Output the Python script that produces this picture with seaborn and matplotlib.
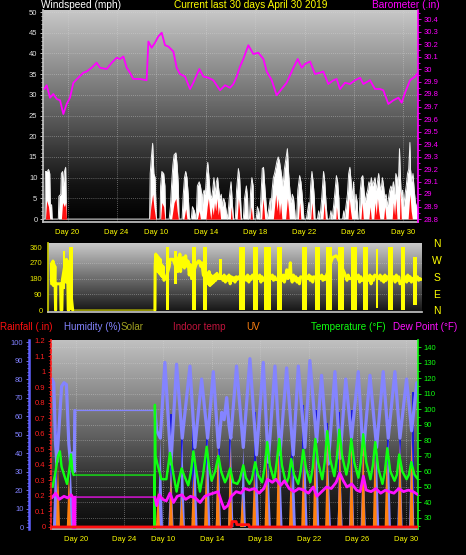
import numpy as np
import matplotlib
matplotlib.use("Agg")
import matplotlib.pyplot as plt
import seaborn as sns
from matplotlib.colors import LinearSegmentedColormap
from matplotlib.ticker import MultipleLocator, FuncFormatter

# ---- data (t = day index from left edge) ----
day_ticks = [2, 6, 9.25, 13.3, 17.3, 21.35, 25.35, 29.4]
day_labels = ["Day 20", "Day 24", "Day 10", "Day 14", "Day 18", "Day 22", "Day 26", "Day 30"]

baro_t = [0.11, 0.30, 0.57, 0.84, 1.12, 1.39, 1.66, 1.93, 2.20, 2.48,
          2.88, 3.29, 3.56, 3.97, 4.38, 4.65, 5.20, 5.61, 6.01, 6.29,
          6.56, 6.83, 7.10, 7.37, 7.92, 8.46, 8.60, 8.87, 9.14, 9.41,
          9.69, 9.96, 10.23, 10.64, 10.91, 11.18, 11.59, 12.00, 12.27, 12.76,
          13.09, 13.50, 13.90, 14.45, 14.86, 15.27, 15.54, 15.81, 16.08, 16.35,
          16.76, 17.17, 17.58, 17.99, 18.26, 18.67, 19.07, 19.48, 19.89, 20.44,
          20.79, 21.12, 21.39, 21.80, 22.20, 22.61, 22.88, 23.29, 23.70, 23.97,
          24.24, 24.65, 25.06, 25.47, 25.88, 26.15, 26.69, 27.10, 27.51, 27.78,
          28.19, 28.60, 29.01, 29.28, 29.55, 29.96, 30.37, 30.61]
baro_in = [29.84, 29.87, 29.77, 29.80, 29.76, 29.75, 29.64, 29.72, 29.77, 29.89,
           29.93, 29.97, 29.98, 30.01, 30.05, 30.01, 30.00, 30.05, 30.09, 30.08,
           30.10, 30.01, 29.97, 29.92, 29.92, 29.91, 30.22, 30.17, 30.21, 30.26,
           30.29, 30.19, 30.18, 30.14, 30.01, 29.96, 29.94, 29.84, 29.89, 30.00,
           29.94, 29.93, 29.91, 29.83, 29.87, 29.85, 29.88, 29.94, 30.02, 30.08,
           30.19, 30.12, 30.13, 30.08, 29.98, 29.91, 29.79, 29.84, 29.89, 30.01,
           30.08, 30.01, 30.04, 30.06, 29.96, 29.97, 29.98, 29.88, 29.91, 29.92,
           29.84, 29.89, 29.88, 29.91, 29.93, 29.88, 29.91, 29.84, 29.84, 29.83,
           29.72, 29.75, 29.77, 29.73, 29.81, 29.91, 29.94, 29.97]

gust = [(0.0, 0), (0.15, 0), (0.2, 11.5), (0.35, 11.5), (0.45, 12), (0.55, 11), (0.6, 3), (0.7, 3.5),
        (0.75, 0), (1.25, 0), (1.3, 5.5), (1.45, 6), (1.5, 11), (1.6, 11.5), (1.65, 8), (1.75, 11.5),
        (1.85, 12.5), (1.92, 0), (8.7, 0), (8.75, 11), (8.85, 15), (8.95, 18.3), (9.05, 11), (9.15, 10),
        (9.25, 0), (9.55, 0), (9.6, 8), (9.7, 11.5), (9.85, 11), (9.95, 8), (10.0, 0), (10.3, 0),
        (10.4, 3), (10.5, 8.5), (10.6, 13), (10.7, 15.5), (10.85, 16), (10.95, 13), (11.05, 8), (11.1, 0),
        (11.35, 0), (11.45, 6), (11.55, 10), (11.65, 11.5), (11.75, 10), (11.85, 6), (11.95, 0), (12.1, 0),
        (12.2, 3), (12.35, 2), (12.5, 0), (12.6, 8), (12.75, 9), (12.85, 8), (12.95, 6), (13.0, 2),
        (13.05, 6), (13.15, 7), (13.25, 6), (13.35, 11), (13.45, 13.7), (13.55, 10), (13.65, 6), (13.75, 5),
        (13.85, 7), (13.95, 10), (14.05, 6), (14.15, 9), (14.25, 10), (14.35, 7), (14.45, 5), (14.55, 6),
        (14.65, 3), (14.75, 5), (14.85, 4), (14.95, 2), (15.05, 0), (15.15, 3), (15.2, 5), (15.35, 9),
        (15.45, 4), (15.55, 0), (15.7, 0), (15.8, 7), (15.95, 12.2), (16.05, 10), (16.15, 3), (16.2, 0),
        (16.35, 0), (16.45, 5), (16.6, 8), (16.7, 5), (16.75, 0), (16.85, 0), (16.95, 7), (17.05, 10),
        (17.15, 8), (17.2, 0), (17.4, 0), (17.5, 3), (17.6, 2), (17.7, 0), (17.8, 6), (17.9, 12.2),
        (18.0, 12.5), (18.1, 8), (18.2, 4), (18.3, 0), (18.45, 3), (18.55, 5), (18.6, 2), (18.7, 7),
        (18.8, 10), (18.9, 11), (19.0, 12.5), (19.1, 14), (19.2, 15), (19.3, 14), (19.4, 12), (19.5, 10),
        (19.6, 8), (19.7, 12), (19.8, 14), (19.95, 17), (20.05, 11), (20.15, 7), (20.25, 4), (20.35, 6),
        (20.45, 5), (20.55, 2), (20.6, 0), (20.7, 0), (20.8, 7), (20.95, 10.5), (21.05, 9), (21.15, 6),
        (21.25, 2), (21.3, 0), (21.5, 0), (21.6, 2), (21.7, 4), (21.75, 0), (21.85, 8), (21.95, 11.5),
        (22.05, 9), (22.15, 5), (22.2, 0), (22.4, 0), (22.5, 2), (22.6, 0), (22.75, 5), (22.9, 11.5),
        (23.0, 9), (23.1, 4), (23.2, 0), (23.4, 0), (23.5, 2), (23.6, 0), (23.75, 4), (23.95, 10.5),
        (24.05, 9), (24.15, 5), (24.2, 0), (24.45, 0), (24.55, 2), (24.6, 0), (24.85, 6), (24.95, 11),
        (25.05, 12.5), (25.15, 9), (25.25, 5), (25.35, 9), (25.45, 2), (25.55, 6), (25.65, 4), (25.7, 0),
        (25.8, 0), (25.9, 7), (26.0, 10), (26.1, 10.5), (26.2, 7), (26.3, 4), (26.4, 6), (26.5, 7),
        (26.6, 9), (26.7, 8), (26.8, 10), (26.9, 8), (27.0, 9), (27.1, 10), (27.2, 7), (27.3, 9),
        (27.4, 11), (27.5, 8), (27.6, 7), (27.7, 10), (27.8, 8), (27.9, 5), (28.0, 6), (28.1, 3),
        (28.2, 5), (28.3, 7), (28.4, 8), (28.5, 7), (28.6, 9), (28.7, 6), (28.8, 11), (28.9, 10),
        (29.0, 8), (29.1, 17), (29.15, 12), (29.25, 5), (29.35, 7), (29.45, 3), (29.55, 6), (29.65, 8),
        (29.75, 11), (29.85, 12), (29.95, 18.5), (30.0, 12), (30.1, 9), (30.2, 11), (30.3, 7), (30.4, 4),
        (30.5, 3), (30.6, 2)]

wind_avg = [(0.0, 0), (0.2, 0), (0.3, 4.5), (0.45, 3), (0.55, 0), (1.5, 0), (1.6, 4), (1.75, 3),
            (1.85, 4), (1.92, 0), (8.7, 0), (8.8, 3), (8.95, 6), (9.05, 3), (9.2, 0), (9.6, 0),
            (9.7, 4), (9.85, 3), (9.95, 0), (10.5, 0), (10.7, 4), (10.85, 5), (10.95, 2), (11.05, 0),
            (11.5, 0), (11.65, 2.5), (11.75, 0), (12.6, 0), (12.75, 2), (12.85, 0), (13.3, 0), (13.4, 3),
            (13.5, 5), (13.6, 2), (13.7, 0), (13.8, 3), (13.9, 1), (14.0, 4), (14.1, 2), (14.2, 5),
            (14.3, 1), (14.4, 3), (14.5, 0), (15.3, 0), (15.35, 3), (15.45, 0), (15.85, 0), (15.95, 5),
            (16.05, 2), (16.1, 0), (16.9, 0), (17.0, 3), (17.1, 0), (17.85, 0), (17.95, 5), (18.05, 2),
            (18.1, 0), (18.8, 0), (18.9, 3), (19.0, 6), (19.1, 2), (19.2, 5), (19.3, 1), (19.4, 4),
            (19.5, 0), (19.8, 0), (19.95, 5), (20.05, 2), (20.1, 0), (20.85, 0), (20.95, 4), (21.05, 0),
            (21.85, 0), (21.95, 4), (22.05, 0), (22.85, 0), (22.95, 4), (23.05, 0), (23.9, 0), (23.95, 3),
            (24.05, 0), (24.9, 0), (25.0, 5), (25.1, 2), (25.2, 0), (25.95, 0), (26.05, 4), (26.15, 0),
            (26.6, 0), (26.7, 3), (26.8, 0), (27.0, 0), (27.1, 4), (27.2, 1), (27.3, 5), (27.4, 2),
            (27.5, 0), (27.8, 0), (27.9, 3), (28.0, 0), (28.5, 0), (28.6, 4), (28.7, 1), (28.8, 5),
            (28.9, 0), (29.1, 0), (29.15, 7), (29.25, 0), (29.8, 0), (29.95, 6), (30.05, 2), (30.15, 0),
            (30.6, 0)]

# wind direction: solid bands (start, end, low, high) and the line between them
dir_bands = [(0.88, 1.08, 120, 340), (1.44, 1.72, 0, 360), (9.47, 9.74, 0, 360), (10.1, 10.4, 150, 340),
             (11.6, 11.96, 0, 360), (12.57, 12.85, 0, 360), (13.85, 14.1, 170, 290), (15.56, 16.03, 0, 360),
             (16.72, 17.13, 0, 360), (17.63, 18.16, 0, 360), (18.66, 19.07, 0, 360), (20.73, 21.2, 0, 360),
             (21.84, 22.26, 0, 360), (22.73, 23.28, 0, 360), (23.78, 24.28, 0, 360), (24.80, 25.30, 0, 360),
             (25.85, 26.27, 0, 360), (26.9, 27.1, 10, 350), (27.93, 28.35, 0, 360), (28.95, 29.31, 0, 360),
             (30.0, 30.3, 30, 305)]
dir_line = [(-0.03, 150), (0.0, 270), (0.04, 160), (0.08, 280), (0.12, 140), (0.16, 260), (0.2, 160),
            (0.24, 250), (0.27, 130), (0.3, 0), (0.32, 150), (0.5, 150), (0.72, 150), (0.75, 0), (0.82, 0),
            (0.86, 170), (1.1, 270), (1.15, 160), (1.2, 290), (1.25, 170), (1.3, 280), (1.35, 0), (1.4, 0),
            (1.44, 180), (1.72, 0), (8.55, 0), (8.57, 250), (8.62, 320), (8.68, 230), (8.74, 310),
            (8.8, 220), (8.86, 300), (8.92, 210), (8.98, 290), (9.04, 200), (9.1, 260), (9.16, 190),
            (9.22, 250), (9.3, 170), (9.38, 180), (9.47, 180), (9.74, 250), (9.8, 290), (9.95, 290),
            (10.05, 290), (10.45, 220), (10.5, 300), (10.56, 230), (10.62, 320), (10.68, 220), (10.74, 280),
            (10.8, 250), (10.9, 300), (11.0, 240), (11.1, 310), (11.2, 250), (11.3, 280), (11.4, 200),
            (11.5, 260), (11.6, 180), (11.96, 260), (12.05, 270), (12.15, 280), (12.25, 280), (12.35, 250),
            (12.45, 270), (12.57, 200), (12.85, 170), (12.92, 210), (12.98, 150), (13.05, 220), (13.12, 140),
            (13.2, 200), (13.28, 150), (13.36, 190), (13.44, 160), (13.52, 200), (13.6, 170), (13.7, 210),
            (13.8, 180), (14.1, 190), (14.2, 170), (14.3, 200), (14.4, 160), (14.5, 190), (14.6, 170),
            (14.7, 200), (14.8, 150), (14.9, 190), (15.0, 170), (15.1, 185), (15.2, 160), (15.3, 190),
            (15.4, 175), (15.5, 190), (16.05, 190), (16.15, 170), (16.25, 200), (16.35, 160), (16.45, 190),
            (16.55, 175), (16.65, 200), (17.15, 180), (17.25, 200), (17.35, 160), (17.45, 190), (17.55, 170),
            (18.2, 180), (18.3, 200), (18.4, 170), (18.5, 190), (18.6, 175), (19.1, 170), (19.2, 200),
            (19.3, 160), (19.4, 190), (19.5, 230), (19.6, 180), (19.7, 200), (19.8, 270), (19.85, 190),
            (19.95, 160), (20.05, 200), (20.15, 170), (20.25, 190), (20.35, 160), (20.45, 180), (20.55, 150),
            (20.65, 190), (21.25, 180), (21.35, 200), (21.45, 170), (21.55, 190), (21.65, 160), (21.75, 190),
            (22.3, 180), (22.4, 200), (22.5, 170), (22.6, 190), (22.68, 175), (23.3, 300), (23.45, 305),
            (23.6, 310), (23.72, 300), (24.3, 210), (24.4, 190), (24.5, 170), (24.6, 200), (24.7, 180),
            (25.35, 180), (25.45, 200), (25.55, 160), (25.65, 190), (25.75, 170), (26.3, 170), (26.4, 200),
            (26.5, 150), (26.6, 190), (26.7, 170), (26.8, 200), (27.15, 180), (27.25, 200), (27.35, 170),
            (27.45, 190), (27.55, 160), (27.65, 200), (27.75, 170), (27.85, 190), (28.4, 190), (28.5, 160),
            (28.6, 200), (28.7, 170), (28.8, 190), (28.9, 150), (29.35, 190), (29.45, 160), (29.55, 200),
            (29.65, 170), (29.75, 190), (29.85, 160), (29.95, 180), (30.35, 190), (30.45, 170), (30.55, 180),
            (30.65, 175)]

humidity = [(0.0, 80), (0.15, 78), (0.3, 45), (0.4, 35), (0.55, 50), (0.8, 76), (1.0, 78), (1.2, 77),
            (1.4, 45), (1.55, 34), (1.7, 40), (1.85, 30), (1.9, 63), (8.55, 63), (8.7, 52), (9.0, 48),
            (9.38, 89), (9.88, 34), (10.35, 88), (10.82, 48), (11.46, 87), (11.87, 43), (12.43, 80),
            (12.93, 48), (13.40, 84), (13.82, 43), (14.1, 62), (14.3, 58), (14.51, 70), (14.7, 55),
            (14.85, 48), (15.33, 87), (15.89, 43), (16.44, 91), (16.99, 39), (17.55, 89), (17.96, 35),
            (18.52, 87), (18.93, 39), (19.49, 86), (20.04, 39), (20.46, 87), (21.01, 43), (21.42, 90),
            (21.98, 46), (22.39, 82), (22.95, 34), (23.50, 84), (23.92, 37), (24.40, 80), (24.88, 48),
            (25.44, 84), (25.85, 39), (26.41, 82), (26.96, 43), (27.51, 84), (27.93, 48), (28.48, 84),
            (28.90, 48), (29.45, 80), (29.87, 52), (30.3, 78), (30.4, 76)]

temperature = [(0.05, 50), (0.3, 60), (0.5, 70), (0.66, 73), (0.8, 63), (1.0, 58), (1.25, 52), (1.45, 62),
               (1.58, 71), (1.7, 60), (1.8, 57.7), (8.5, 57.7), (8.52, 23), (8.55, 103), (8.6, 70),
               (8.75, 65), (9.1, 55), (9.5, 55), (9.8, 72), (10.0, 62), (10.35, 47), (10.55, 55),
               (10.77, 62), (11.0, 57), (11.32, 51), (11.55, 60), (11.74, 73), (11.95, 62), (12.29, 47),
               (12.55, 58), (12.85, 76), (13.05, 63), (13.26, 54), (13.55, 60), (13.82, 70), (14.05, 60),
               (14.37, 53), (14.55, 56), (14.8, 62), (15.06, 53), (15.4, 52), (15.6, 55), (15.89, 64),
               (16.1, 56), (16.4, 52), (16.6, 55), (16.88, 66), (17.1, 58), (17.45, 53), (17.65, 62),
               (17.88, 79), (18.1, 64), (18.45, 54), (18.65, 65), (18.88, 81), (19.1, 64), (19.45, 52),
               (19.65, 56), (19.87, 68), (20.1, 58), (20.45, 52), (20.65, 60), (20.87, 74), (21.1, 62),
               (21.45, 53), (21.65, 62), (21.87, 81), (22.1, 66), (22.45, 55), (22.65, 66), (22.86, 86),
               (23.1, 68), (23.45, 57), (23.65, 68), (23.86, 87), (24.1, 70), (24.45, 58), (24.65, 66),
               (24.86, 81), (25.1, 66), (25.45, 56), (25.65, 66), (25.85, 84), (26.1, 66), (26.45, 55),
               (26.65, 64), (26.85, 79), (27.1, 62), (27.45, 52), (27.65, 60), (27.85, 75), (28.1, 60),
               (28.45, 54), (28.65, 58), (28.84, 71), (29.1, 60), (29.45, 55), (29.65, 58), (29.84, 66),
               (30.1, 58), (30.4, 55)]

dew_point = [(0.0, 43), (0.3, 46), (0.6, 42), (1.0, 44), (1.3, 43), (1.6, 45), (1.75, 43), (1.8, 23),
             (1.9, 23), (1.92, 43.5), (8.55, 43.5), (8.7, 38), (8.9, 45), (9.2, 42), (9.5, 41), (9.8, 46),
             (10.1, 40), (10.4, 44), (10.8, 45), (11.1, 42), (11.5, 44), (11.9, 43), (12.3, 40), (12.7, 44),
             (13.0, 45), (13.4, 46), (13.8, 47), (14.1, 40), (14.3, 36), (14.6, 38), (14.9, 44), (15.3, 47),
             (15.7, 46), (16.0, 49), (16.4, 48), (16.8, 49), (17.2, 46), (17.6, 49), (17.9, 55), (18.3, 53),
             (18.6, 55), (19.0, 51), (19.3, 54), (19.7, 49), (20.1, 47), (20.5, 49), (20.9, 48), (21.3, 46),
             (21.7, 50), (22.0, 44), (22.4, 47), (22.8, 50), (23.2, 49), (23.6, 53), (23.9, 59), (24.2, 54),
             (24.5, 50), (24.9, 52), (25.3, 48), (25.6, 47), (25.86, 57), (26.1, 48), (26.5, 47), (26.9, 49),
             (27.3, 46), (27.7, 48), (28.0, 47), (28.4, 46), (28.8, 49), (29.2, 47), (29.6, 48), (30.0, 47),
             (30.4, 45)]

rainfall = [(-0.08, 0), (14.9, 0), (14.95, 0.035), (15.3, 0.035), (15.35, 0.015), (16.35, 0.015),
            (16.4, 0), (30.4, 0)]

solar_t = [0.3, 1.55, 9.0, 9.88, 10.82, 11.87, 12.93, 13.82, 14.85, 15.89, 16.99, 17.96, 18.93, 20.04,
           21.01, 21.98, 22.95, 23.92, 24.88, 25.85, 26.96, 27.93, 28.90, 29.87]
solar_h = [40, 34, 48, 34, 48, 43, 48, 43, 48, 43, 39, 35, 39, 39, 43, 46, 34, 37, 48, 39, 43, 48, 48, 52]
solar_peak_t = [0.3, 9.85, 10.8, 11.75, 12.85, 13.85, 14.8, 16.85, 17.83, 18.85, 19.9, 20.87, 21.9,
                22.86, 23.88, 24.88, 25.85, 26.85, 27.88, 28.88, 29.95]
solar_peak = [52, 61, 48, 59, 50, 44, 54, 62, 56, 48, 47, 66, 63, 56, 62, 63, 50, 52, 59, 48, 73]
uv_t = [0.5, 1.4, 8.8, 9.88, 10.77, 11.74, 12.8, 13.77, 14.8, 15.8, 16.8, 17.83, 18.8, 19.85, 20.87,
        21.84, 22.86, 23.9, 24.88, 25.85, 26.82, 27.8, 28.9, 29.87]
uv_h = [34, 29, 20, 30, 17, 30, 34, 44, 43, 17, 32, 43, 50, 32, 40, 48, 50, 53, 48, 53, 48, 43, 46, 48]

# ---- style ----
sns.set_theme(style="dark")
plt.rcParams['font.family'] = ['Liberation Sans', 'DejaVu Sans']

W, H = 466, 555
fig = plt.figure(figsize=(W / 100, H / 100), dpi=100, facecolor='black')


def px_axes(x0, y0, x1, y1):
    return fig.add_axes([x0 / W, 1 - y1 / H, (x1 - x0) / W, (y1 - y0) / H])


def gradient_bg(ax, stops):
    cmap = LinearSegmentedColormap.from_list("bg", stops)
    grad = np.linspace(0, 1, 256).reshape(-1, 1)
    ax.imshow(grad, cmap=cmap, aspect='auto', extent=[0, 1, 0, 1], origin='lower',
              transform=ax.transAxes, zorder=0, interpolation='bilinear')


def unzip(pairs):
    a = np.array(pairs, dtype=float)
    return a[:, 0], a[:, 1]


def line(ax, t, v, color, lw, z=2):
    sns.lineplot(x=t, y=v, ax=ax, color=color, linewidth=lw, estimator=None, sort=False, zorder=z)


def gapped_line(ax, pairs, gap, color, lw, z=2):
    t, v = unzip(pairs)
    line(ax, t, v, color, 0.9, z)
    for m in (t <= gap[0], t >= gap[1]):
        line(ax, t[m], v[m], color, lw, z)


def style_y(ax, color, size=5.5):
    ax.tick_params(axis='y', which='both', colors=color, labelsize=size, width=0.6, pad=1.5)
    ax.tick_params(axis='y', which='major', length=2.5)
    ax.tick_params(axis='y', which='minor', length=1.5)


def day_axis(ax, show):
    ax.set_xticks(day_ticks)
    ax.set_xticklabels(day_labels if show else [])
    ax.tick_params(axis='x', colors='#c0c0c0', labelcolor='#ffff00', labelsize=5.5, length=2, pad=3)
    for t in day_ticks:
        ax.axvline(t, color='#d8d8d8', lw=0.6, ls=(0, (1, 1.5)), alpha=0.55, zorder=0.5)


fmt = FuncFormatter(lambda v, p: f"{round(v, 2):g}")
grid_kw = dict(color='#d8d8d8', lw=0.6, ls=(0, (1, 1.5)), alpha=0.5, zorder=0.5)

# ---- panel 1: wind speed + barometer ----
ax1 = px_axes(43, 10, 418, 222)
gradient_bg(ax1, [(0, '#000000'), (0.18, '#141414'), (0.55, '#686868'), (1, '#c8c8c8')])
for v in range(5, 51, 5):
    ax1.axhline(v, **grid_kw)
gt, gv = unzip(gust)
at, av = unzip(wind_avg)
ax1.fill_between(gt, 0, gv, color='white', lw=0, zorder=1)
line(ax1, gt, gv, '#f0f0f0', 0.7, 1.1)
ax1.fill_between(at, 0, av, color='#ff1010', lw=0, zorder=1.2)
ax1.set_xlim(0, 30.61)
ax1.set_ylim(-0.7, 50.5)
ax1.yaxis.set_major_locator(MultipleLocator(5))
ax1.yaxis.set_minor_locator(MultipleLocator(1))
style_y(ax1, '#e0e0e0')
day_axis(ax1, True)

ax1b = ax1.twinx()
line(ax1b, np.array(baro_t), np.array(baro_in), '#ff00ff', 1.3, 3)
ax1b.set_ylim(28.776, 30.472)
ax1b.yaxis.set_major_locator(MultipleLocator(0.1))
ax1b.yaxis.set_minor_locator(MultipleLocator(0.05))
ax1b.yaxis.set_major_formatter(fmt)
style_y(ax1b, '#ff00ff')
ax1b.set_xlim(0, 30.61)

for a in (ax1, ax1b):
    a.grid(False)
    a.spines['top'].set_visible(False)
ax1.spines['left'].set_color('#c0c0c0')
ax1.spines['bottom'].set_color('#c0c0c0')
ax1.spines['right'].set_visible(False)
ax1b.spines['left'].set_visible(False)
ax1b.spines['bottom'].set_visible(False)
ax1b.spines['right'].set_color('#ff00ff')
ax1b.spines['right'].set_linestyle((0, (2, 1)))

# ---- panel 2: wind direction ----
ax2 = px_axes(48, 243, 422, 312)
gradient_bg(ax2, [(0, '#141414'), (0.5, '#707070'), (1, '#cccccc')])
for v in (90, 180, 270):
    ax2.axhline(v, **grid_kw)
dt, dv = unzip(dir_line)
line(ax2, dt, dv, '#c8c800', 0.9, 1.5)
for m in (dt <= 1.72, dt >= 8.55):
    line(ax2, dt[m], dv[m], '#ffff00', 2.2, 2)
for s, e, lo, hi in dir_bands:
    ax2.bar(s, hi - lo, bottom=lo, width=e - s, align='edge', color='#ffff00', lw=0, zorder=2.5)
ax2.set_xlim(-0.33, 30.73)
ax2.set_ylim(-11, 383)
ax2.set_yticks([0, 90, 180, 270, 360])
ax2.yaxis.set_minor_locator(MultipleLocator(30))
style_y(ax2, '#e8e800')
ax2.set_xticks([])
ax2.grid(False)
for s in ('top', 'right'):
    ax2.spines[s].set_visible(False)
ax2.spines['left'].set_color('#c8c800')
ax2.spines['bottom'].set_color('#c0c0c0')
for lab, ypx in zip(["N", "W", "S", "E", "N"], [244, 261, 278, 295, 311]):
    fig.text(437 / W, 1 - ypx / H, lab, color='#ffff00', fontsize=7.5, ha='center', va='center')

# ---- panel 3: rain, humidity, temperature, dew point, UV, solar ----
ax3 = px_axes(51, 340, 418, 529)
gradient_bg(ax3, [(0, '#0a0a0a'), (0.2, '#222222'), (0.5, '#626262'), (1, '#c2c2c2')])
t_lo, t_hi = 22.9, 144.8
for T in range(30, 141, 10):
    f = (T - t_lo) / (t_hi - t_lo)
    ax3.plot([0, 1], [f, f], transform=ax3.transAxes, **grid_kw)
ax3.vlines(solar_peak_t, 0, solar_peak, color='#1414e6', lw=1.3, zorder=1)
for t0, h in zip(solar_t, solar_h):
    ax3.fill([t0 - 0.22, t0, t0 + 0.22], [0, h, 0], color='#8484ff', lw=0, zorder=1.5)
gapped_line(ax3, humidity, (1.9, 8.55), '#8484ff', 2.3, 2)
for t0, h in zip(uv_t, uv_h):
    ax3.fill([t0 - 0.17, t0, t0 + 0.17], [0, h, 0], color='#ff8010', lw=0, zorder=2.5)
ax3.set_xlim(-0.08, 30.4)
ax3.set_ylim(-1.08, 101.1)
ax3.yaxis.set_major_locator(MultipleLocator(10))
ax3.yaxis.set_minor_locator(MultipleLocator(2))
style_y(ax3, '#8080ff')
ax3.spines['left'].set_position(('outward', 22 * 0.72))
ax3.spines['left'].set_color('#6060ff')
ax3.spines['left'].set_linewidth(1.8)
ax3.spines['bottom'].set_color('#c0c0c0')
for s in ('top', 'right'):
    ax3.spines[s].set_visible(False)
day_axis(ax3, True)
ax3.grid(False)

ax3t = ax3.twinx()
gapped_line(ax3t, temperature, (1.8, 8.5), '#10ff10', 1.7, 3)
gapped_line(ax3t, dew_point, (1.92, 8.55), '#ff10ff', 2.0, 4)
ax3t.set_ylim(t_lo, t_hi)
ax3t.set_xlim(-0.08, 30.4)
ax3t.set_yticks(range(30, 141, 10))
ax3t.yaxis.set_minor_locator(MultipleLocator(5))
style_y(ax3t, '#10ff10')
ax3t.grid(False)
for s in ('top', 'left', 'bottom'):
    ax3t.spines[s].set_visible(False)
ax3t.spines['right'].set_color('#10ff10')
ax3t.spines['right'].set_linewidth(1.2)

ax3r = ax3.twinx()
rt, rv = unzip(rainfall)
line(ax3r, rt, rv, '#ff1010', 2.0, 5)
ax3r.set_ylim(-0.013, 1.206)
ax3r.set_xlim(-0.08, 30.4)
ax3r.yaxis.tick_left()
ax3r.yaxis.set_major_locator(MultipleLocator(0.1))
ax3r.yaxis.set_minor_locator(MultipleLocator(0.02))
ax3r.yaxis.set_major_formatter(fmt)
style_y(ax3r, '#ff2020')
ax3r.grid(False)
for s in ('top', 'right', 'bottom'):
    ax3r.spines[s].set_visible(False)
ax3r.spines['left'].set_visible(True)
ax3r.spines['left'].set_color('#ff2020')
ax3r.spines['left'].set_linestyle((0, (2, 1.5)))

# ---- header texts ----
fig.text(41 / W, 1 - 5.5 / H, "Windspeed (mph)", color='white', fontsize=7.3, va='center')
fig.text(251 / W, 1 - 5.5 / H, "Current last 30 days April 30 2019", color='#ffff00',
         fontsize=7.3, va='center', ha='center')
fig.text(372 / W, 1 - 5.5 / H, "Barometer (.in)", color='#ff00ff', fontsize=7.3, va='center')

legend_items = [("Rainfall (.in)", '#ff1010', 0), ("Humidity (%)", '#8484ff', 64),
                ("Solar", '#a0a020', 121), ("Indoor temp", '#c0143c', 173), ("UV", '#ff8010', 246),
                ("Temperature (°F)", '#10ff10', 311), ("Dew Point (°F)", '#ff10ff', 393)]
for txt, col, xp in legend_items:
    fig.text(xp / W, 1 - 327 / H, txt, color=col, fontsize=7.1, va='center')

fig.savefig("out.png", dpi=100, facecolor='black')
